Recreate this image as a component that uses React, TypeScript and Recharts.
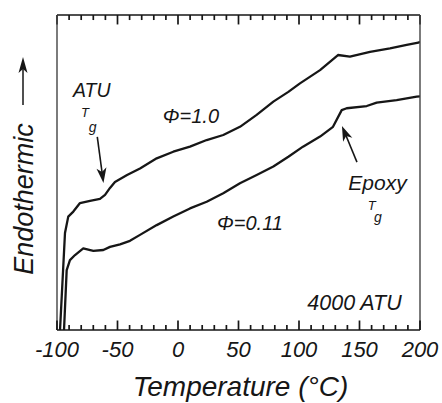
import { LineChart, Line, XAxis, YAxis, ReferenceDot, ReferenceLine } from 'recharts';

// temperature axis
const tempTicks = [-100, -50, 0, 50, 100, 150, 200];
const minorTicks = [-100, -90, -80, -70, -60, -50, -40, -30, -20, -10, 0, 10, 20, 30, 40, 50, 60, 70, 80, 90, 100, 110, 120, 130, 140, 150, 160, 170, 180, 190, 200];

// DSC traces (arbitrary endothermic units, 0 = bottom of frame)
const phi10Temp = [-97.5, -93.4, -90.7, -86.5, -81.0, -72.7, -64.5, -60.3, -56.2, -52.1, -42.1, -31.4, -17.6, -3.9, 9.9, 23.7, 37.4, 51.2, 65.0, 78.8, 91.2, 100.8, 117.4, 132.2, 142.1, 158.7, 175.2, 189.0, 198.6, 200];
const phi10Signal = [0, 30.8, 36.0, 37.6, 40.3, 41.0, 41.6, 42.9, 45.1, 47.0, 49.2, 51.3, 54.5, 56.6, 58.2, 60.3, 61.9, 64.5, 68.3, 72.5, 75.6, 78.3, 82.5, 87.3, 86.8, 88.3, 89.4, 90.5, 91.2, 91.5];

const phi011Temp = [-94.2, -92.0, -89.3, -85.1, -78.3, -70.0, -61.7, -56.2, -47.9, -39.7, -31.4, -17.6, -3.9, 9.9, 23.7, 37.4, 51.2, 65.0, 78.8, 91.2, 103.3, 117.4, 128.1, 135.3, 139.4, 156.0, 164.2, 180.7, 197.3, 200];
const phi011Signal = [0, 19.0, 22.2, 23.8, 25.9, 25.1, 25.4, 26.4, 27.2, 28.3, 30.2, 33.3, 36.0, 38.6, 40.7, 43.4, 46.6, 49.2, 51.9, 55.0, 58.2, 61.4, 64.5, 69.8, 70.4, 71.1, 72.2, 73.0, 74.1, 74.2];

const phi10 = phi10Temp.map((t, i) => ({ t, v: phi10Signal[i] }));
const phi011 = phi011Temp.map((t, i) => ({ t, v: phi011Signal[i] }));

const FONT = '"Liberation Sans", Arial, Helvetica, sans-serif';
const INK = '#161616';
// tick lengths in y units (frame is 0..100 over 315 px)
const MAJOR_LEN = 3.0;
const MINOR_LEN = 1.6;

// bottom axis: inward tick mark on every 10, label on the 50s
function BottomTick({ x, y, payload }: any) {
  const major = tempTicks.includes(payload.value);
  return (
    <g>
      <line x1={x} y1={y} x2={x} y2={y - (major ? 9.5 : 5)} stroke={INK} strokeWidth={1.7} />
      {major && (
        <text x={x} y={y + 27} textAnchor="middle" fontFamily={FONT} fontStyle="italic" fontSize={22} fill={INK}>
          {payload.value}
        </text>
      )}
    </g>
  );
}

function XTitle({ viewBox }: any) {
  return (
    <text x={viewBox.x + viewBox.width / 2 + 2} y={viewBox.y + 66} textAnchor="middle"
      fontFamily={FONT} fontStyle="italic" fontSize={28} fill={INK}>
      Temperature (°C)
    </text>
  );
}

function YTitle({ viewBox }: any) {
  const cx = viewBox.x + 23;
  const ty = viewBox.y + 184;
  return (
    <g>
      <text x={cx + 10} y={ty} transform={`rotate(-90 ${cx + 10} ${ty})`} textAnchor="middle"
        fontFamily={FONT} fontStyle="italic" fontSize={27} fill={INK}>
        Endothermic
      </text>
      <line x1={cx} y1={viewBox.y + 90} x2={cx} y2={viewBox.y + 52} stroke={INK} strokeWidth={1.5} />
      <polygon points={`${cx},${viewBox.y + 42} ${cx - 4.5},${viewBox.y + 58} ${cx},${viewBox.y + 54} ${cx + 4.5},${viewBox.y + 58}`} fill={INK} />
    </g>
  );
}

function arrow(p: any) {
  const { x1, y1, x2, y2 } = p;
  const dx = x2 - x1;
  const dy = y2 - y1;
  const len = Math.hypot(dx, dy) || 1;
  const ux = dx / len, uy = dy / len;
  const head = 15, half = 5, notch = 4;
  const bx = x2 - ux * head, by = y2 - uy * head;
  const nx = x2 - ux * (head - notch), ny = y2 - uy * (head - notch);
  const px = -uy, py = ux;
  return (
    <g>
      <line x1={x1} y1={y1} x2={nx} y2={ny} stroke={INK} strokeWidth={1.6} />
      <polygon
        points={`${x2},${y2} ${bx + px * half},${by + py * half} ${nx},${ny} ${bx - px * half},${by - py * half}`}
        fill={INK}
      />
    </g>
  );
}

function note(key: string, text: string, t: number, v: number, size: number, anchor = 'middle') {
  return (
    <ReferenceDot key={key} x={t} y={v} r={0} fill="none" stroke="none" ifOverflow="visible"
      label={(p: any) => (
        <text x={p.viewBox.x} y={p.viewBox.y} textAnchor={anchor} fontFamily={FONT}
          fontStyle="italic" fontSize={size} fill={INK}>
          {text}
        </text>
      )}
    />
  );
}

export default function App() {
  return (
    <div style={{ position: 'absolute', left: 0, top: 0, width: 442, height: 403, background: '#fff' }}>
      <LineChart width={442} height={403} margin={{ top: 15, right: 0, bottom: 0, left: 0 }}>
        <XAxis
          type="number" dataKey="t" domain={[-100, 200]} ticks={minorTicks} interval={0}
          allowDataOverflow height={73} tickSize={0} tickMargin={0}
          tickLine={false} axisLine={{ stroke: INK, strokeWidth: 1.6 }} tick={<BottomTick />}
          label={{ content: (p: any) => <XTitle {...p} /> }}
        />
        <YAxis type="number" domain={[0, 100]} allowDataOverflow width={57} tick={false} tickLine={false}
          axisLine={{ stroke: '#444', strokeWidth: 1.4 }}
          label={{ content: (p: any) => <YTitle {...p} /> }} />
        <YAxis yAxisId="r" orientation="right" type="number" domain={[0, 100]} width={22} tick={false}
          tickLine={false} axisLine={{ stroke: '#444', strokeWidth: 1.4 }} />

        {/* top edge of the frame with its inward ticks */}
        <ReferenceLine y={100} ifOverflow="visible" stroke={INK} strokeWidth={1.6} />
        {minorTicks.map((t) => (
          <ReferenceLine key={`t${t}`}
            segment={[{ x: t, y: 100 }, { x: t, y: 100 - (tempTicks.includes(t) ? MAJOR_LEN : MINOR_LEN) }]}
            ifOverflow="visible" stroke={INK} strokeWidth={1.7} />
        ))}

        <Line data={phi10} dataKey="v" type="linear" dot={false} stroke={INK} strokeWidth={2.3}
          strokeLinejoin="round" isAnimationActive={false} />
        <Line data={phi011} dataKey="v" type="linear" dot={false} stroke={INK} strokeWidth={2.3}
          strokeLinejoin="round" isAnimationActive={false} />

        {note('atu', 'ATU', -71.3, 74.1, 19.5)}
        {note('atuT', 'T', -76.9, 67.7, 13)}
        {note('atuG', 'g', -70.5, 63.0, 14)}
        {note('phi1', 'Φ=1.0', 10.7, 65.6, 20)}
        {note('phi2', 'Φ=0.11', 59.5, 31.7, 20)}
        {note('epoxy', 'Epoxy', 164.9, 44.4, 21)}
        {note('epT', 'T', 160.1, 38.1, 13)}
        {note('epG', 'g', 165.3, 34.4, 14)}
        {note('mw', '4000 ATU', 184.9, 6.3, 21.5, 'end')}

        <ReferenceLine segment={[{ x: -66.7, y: 61.3 }, { x: -61.6, y: 46.7 }]} ifOverflow="visible" shape={arrow} />
        <ReferenceLine segment={[{ x: 147.9, y: 53.3 }, { x: 135.5, y: 64.8 }]} ifOverflow="visible" shape={arrow} />
      </LineChart>
    </div>
  );
}
